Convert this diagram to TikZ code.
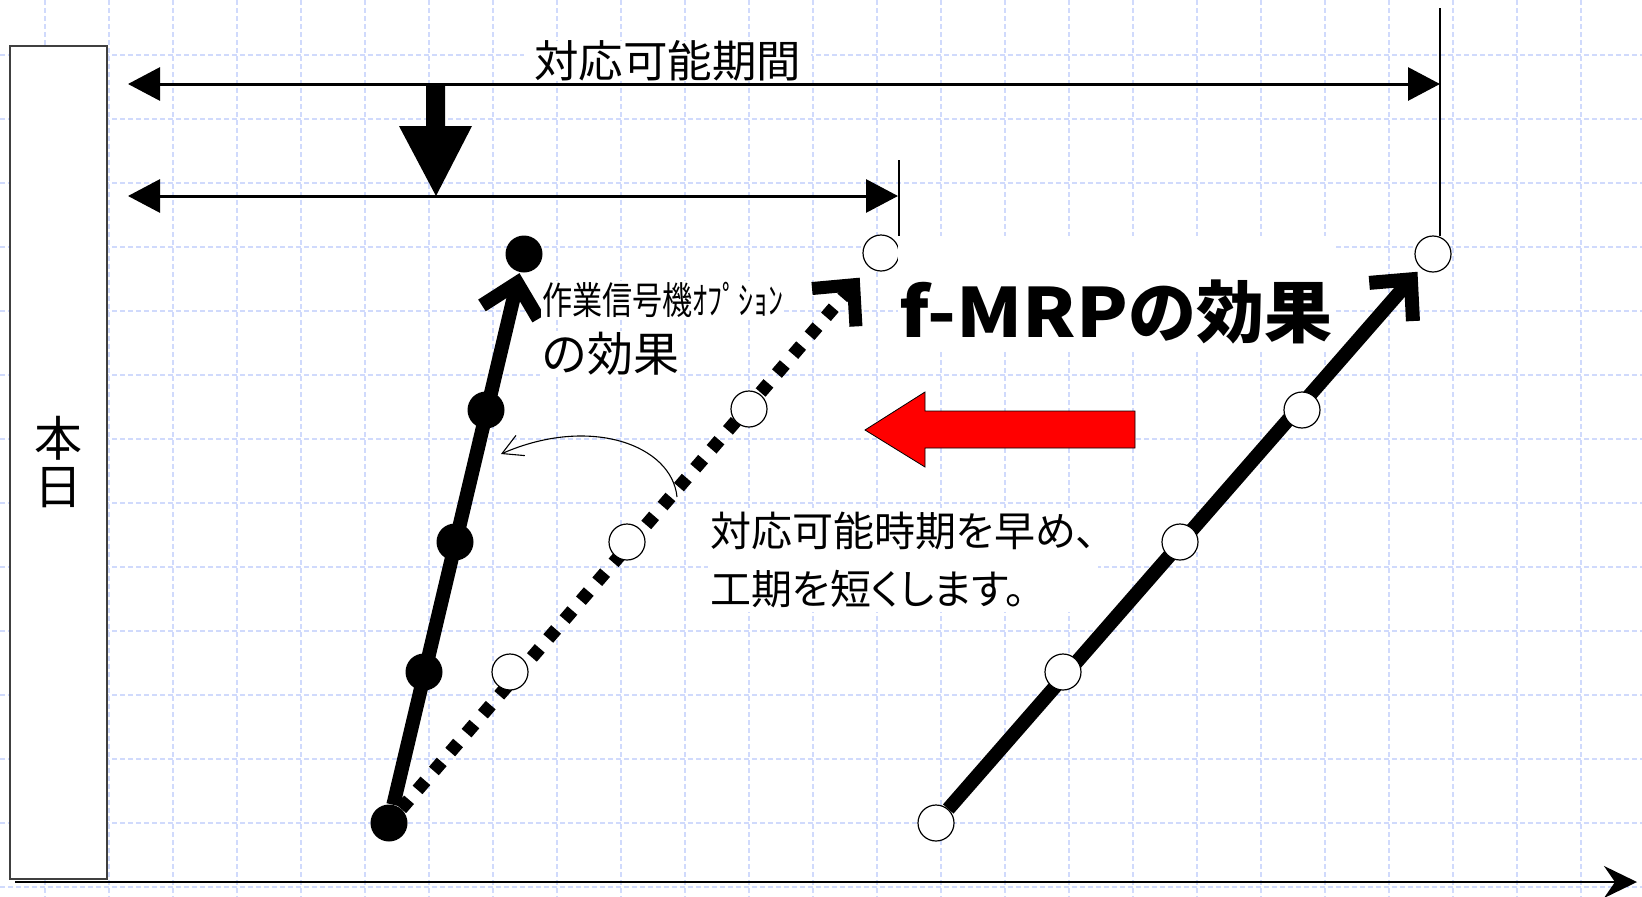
\documentclass[tikz,border=0pt]{standalone}
\usepackage{fontspec}
\usepackage{graphicx}
\setmainfont{Noto Sans CJK JP}
\newfontfamily\jpp[RawFeature=+palt]{Noto Sans CJK JP}
\usetikzlibrary{arrows.meta}
\pgfdeclarelayer{gridlayer}
\pgfdeclarelayer{linelayer}
\pgfsetlayers{gridlayer,linelayer,main}
\definecolor{gridblue}{RGB}{208,218,252}
\begin{document}
\begin{tikzpicture}[x=1pt,y=-1pt,
  gridline/.style={gridblue, line width=1.1pt, dash pattern=on 5pt off 3pt},
  dotfilled/.style={circle, fill=black, minimum size=37pt, inner sep=0pt},
  dotopen/.style={circle, draw=black, fill=white, line width=1.2pt, minimum size=36pt, inner sep=0pt},
  thickarrow/.style={line width=14pt, -{Straight Barb[length=30pt,width=58pt]}},
  dottedarrow/.style={line width=13pt, dash pattern=on 12pt off 13pt, -{Straight Barb[length=30pt,width=58pt]}},
  spanarrow/.style={line width=3pt, {Triangle[length=32pt,width=33pt]}-{Triangle[length=32pt,width=33pt]}},
  tickline/.style={line width=2.5pt},
  axisarrow/.style={line width=2pt, -{Stealth[length=33pt,width=32pt,inset=11pt]}},
  curvearrow/.style={line width=1.1pt, -{Straight Barb[length=20pt,width=22pt]}},
  whitetext/.style={fill=white, anchor=west}
]
\path[use as bounding box] (0,0) rectangle (1642,897);

% grid
\begin{pgfonlayer}{gridlayer}
\foreach \i in {0,...,24} \draw[gridline] (45+64*\i,0) -- (45+64*\i,897);
\foreach \j in {0,...,13} \draw[gridline] (0,55+64*\j) -- (1642,55+64*\j);
\end{pgfonlayer}

% today box
\node[rectangle, draw=black!75, line width=1.3pt, fill=white, minimum width=97pt, minimum height=833pt,
  inner sep=0pt, align=center, font=\fontsize{48}{48}\selectfont] (today) at (58.5,462.5) {本\\日};

% coordinates for span arrows and axis
\coordinate (tA) at (128,84);
\coordinate (tB) at (1440,84);
\coordinate (tTop) at (1440,8);
\coordinate (tBot) at (1440,236);
\coordinate (sA) at (128,196);
\coordinate (sB) at (898,196);
\coordinate (sTop) at (899,160);
\coordinate (sBot) at (899,236);
\coordinate (ax0) at (15,882);
\coordinate (ax1) at (1637,882);
\coordinate (cs) at (677,497);
\coordinate (ce) at (501,454);

% circles
\node[dotfilled] (L0) at (389,823) {};
\node[dotfilled] (L1) at (424,672) {};
\node[dotfilled] (L2) at (455,542) {};
\node[dotfilled] (L3) at (486,410) {};
\node[dotfilled] (L4) at (524,254) {};
\node[dotopen] (D1) at (510,672) {};
\node[dotopen] (D2) at (627,542) {};
\node[dotopen] (D3) at (749,409) {};
\node[dotopen] (D4) at (881,253) {};
\node[dotopen] (R0) at (936,823) {};
\node[dotopen] (R1) at (1063,672) {};
\node[dotopen] (R2) at (1180,542) {};
\node[dotopen] (R3) at (1302,410) {};
\node[dotopen] (R4) at (1433,254) {};

% connectors
\begin{pgfonlayer}{linelayer}
\draw[spanarrow] (tA) -- (tB);
\draw[tickline] (tTop) -- (tBot);
\draw[spanarrow] (sA) -- (sB);
\draw[tickline] (sTop) -- (sBot);
\draw[axisarrow] (ax0) -- (ax1);
\draw[thickarrow, shorten >=1pt] (L0) -- (L4);
\draw[dottedarrow, shorten >=14pt] (L0) -- (D4);
\draw[thickarrow, shorten >=5pt] (R0) -- (R4);
\draw[curvearrow] (cs) .. controls (672,445) and (590,415) .. (ce);
\end{pgfonlayer}

% block down arrow
\fill[black] (426,84) -- (445,84) -- (445,126) -- (472,126) -- (436,196) -- (399,126) -- (426,126) -- cycle;

% red arrow
\filldraw[fill=red, draw=black, line width=0.8pt] (865,430) -- (925,392) -- (925,411) -- (1135,411) -- (1135,448) -- (925,448) -- (925,467) -- cycle;

% texts
\node[whitetext, inner xsep=10pt, inner ysep=0pt, font=\fontsize{44}{44}\selectfont] (span) at (524,61) {\resizebox{267pt}{\height}{対応可能期間}};
\node[whitetext, inner sep=1pt, font=\fontsize{38}{38}\selectfont] (opt) at (541,300) {\resizebox{241pt}{\height}{作業信号機ｵﾌﾟｼｮﾝ}};
\node[whitetext, inner sep=1pt, font=\fontsize{47}{47}\selectfont] (opt2) at (540,354) {\resizebox{138pt}{\height}{の効果}};
\fill[white] (898,236) rectangle (1335,352);
\node[anchor=west, inner sep=0pt, font=\bfseries\fontsize{68}{68}\selectfont] (fmrp) at (899,312) {\resizebox{229pt}{\height}{f-MRP}の効果};
\node[whitetext, align=left, inner xsep=2pt, inner ysep=4pt, font=\jpp\fontsize{41}{58}\selectfont] (expl) at (708,560) {対応可能時期を早め、\\工期を短くします。};
\end{tikzpicture}
\end{document}
